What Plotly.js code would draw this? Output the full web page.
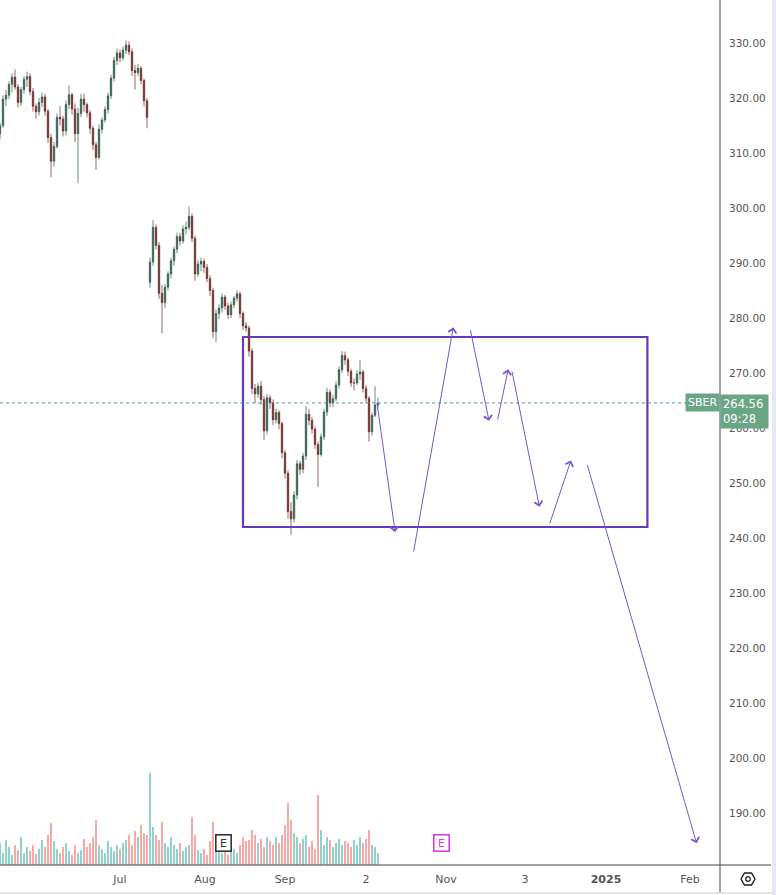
<!DOCTYPE html>
<html><head><meta charset="utf-8">
<script src="https://cdn.plot.ly/plotly-3.0.1.min.js"></script>
<style>html,body{margin:0;padding:0;background:#fff;}#chart{width:776px;height:895px;}</style>
</head><body><div id="chart"></div>
<script>
// bar index (one bar per period), prices in RUB
const openP = [313.5,315,319.8,320.5,322.5,323.8,322,319.2,321.5,323.4,
323.9,321.2,318.5,317.5,319.2,320.2,317.6,312.8,308.5,311.2,
316.5,316.2,314,318.8,320.6,318,313.5,317.2,319.8,318.8,
317.3,314.5,311.5,309.2,314.3,316,317.9,320.4,323.6,326.8,
328.2,327.3,328.7,329.6,328.4,325,324.6,325.4,323.2,319.5,
286.5,290.2,296.5,293.2,284.5,282.8,285.6,288,290.4,292.5,
294.8,294,296.2,296.5,298.5,294.5,288,289.8,290.3,289.2,
287.2,285,277.5,280.8,281.8,283.8,282.2,280.6,282.4,283.6,
284.4,280.8,278.6,278.2,274,267.2,266.2,267.6,265.2,259.5,
265.5,264.6,261.5,262.8,260.8,255.5,251.8,244.8,243.5,247.8,
253.5,252.5,254.9,262.5,261.4,259.8,257,255.2,258.4,262.9,
266.5,264.6,265.3,267.8,270.6,273.2,272.4,270.3,268.2,268.2,
269.8,270.2,267.2,265.4,259.3,262.3,264.2];
const highP = [315.5,320.5,321.5,323,324.5,325.2,322.5,322,324,324.8,
324.5,321.8,319,320,321,320.8,318,313.5,312,317.2,
318.5,316.8,319.5,322.3,321,319,318.2,320.8,320.8,319.2,
317.8,315,312,315.2,316.5,318.5,321,324.2,327.5,329,
328.8,329.3,330.5,330.3,329,326,326.2,325.8,323.5,320,
291,297.8,297,293.8,286,286.2,288.5,291,293,295.5,
295.5,296.8,297.5,300.3,299,295,290.5,291,290.8,289.8,
287.8,285.5,281.5,282.5,284.5,284.2,282.8,283,284,285,
284.8,281.2,279.3,278.6,274.5,268,268.2,268.5,265.8,266.2,
266,265.2,263.5,263.2,261.2,256,252.3,246.5,248.5,254.2,
254,255.5,264,263.5,262,260.3,257.5,259,263.5,267.3,
267,266,268.5,271.2,274,273.9,272.8,270.8,269,270.5,
272.4,270.6,267.8,265.8,262.8,267.6,265.5];
const lowP = [312.5,314.5,318.5,319.8,321,321.5,318.3,318.5,320.8,322,
320.5,317.5,316.2,316.8,318.3,316.8,311.8,305.6,307.5,310.8,
315,313,313.2,318,317,312,304.5,316.5,317.5,316.5,
313.5,310.5,306.9,308.8,313.5,315.5,317.2,319.8,323,326,
326.5,326.8,328,327.8,324,321.5,324,322.5,318.5,314.5,
285.5,289.5,292.5,283.5,277.2,281.8,285,287.2,289.5,291.8,
293.2,293.5,295.2,296,293.8,286.8,287.5,288.5,288.2,286.5,
284,276.4,275.6,279.8,281,281.5,279.8,280,281.8,283,
280,277.8,277.5,273,266.2,264.5,265.5,264.2,257.8,258.8,
263.5,260.5,260.8,259.8,254.5,250.8,243.5,240.6,242.8,247,
251.5,251.8,254.2,260.5,259,256.2,249.3,254.8,257.8,262.2,
263.8,263.8,264.8,267.2,270,271.5,269.5,267.5,266.8,267.8,
268.8,266.5,264.5,257.5,258.6,262,263.6];
const closeP = [315,319.8,320.5,322.5,323.8,322,319.2,321.5,323.4,323.9,
321.2,318.5,317.5,319.2,320.2,317.6,312.8,308.5,311.2,316.5,
316.2,314,318.8,320.6,318,313.5,317.2,319.8,318.8,317.3,
314.5,311.5,309.2,314.3,316,317.9,320.4,323.6,326.8,328.2,
327.3,328.7,329.6,328.4,325,324.6,325.4,323.2,319.5,316.5,
290.2,296.5,293.2,284.5,282.8,285.6,288,290.4,292.5,294.8,
294,296.2,296.5,298.5,294.5,288,289.8,290.3,289.2,287.2,
285,277.5,280.8,281.8,283.8,282.2,280.6,282.4,283.6,284.4,
280.8,278.6,278.2,274,267.2,266.2,267.6,265.2,259.5,265.5,
264.6,261.5,262.8,260.8,255.5,251.8,244.8,243.5,247.8,253.5,
252.5,254.9,262.5,261.4,259.8,257,255.2,258.4,262.9,266.5,
264.6,265.3,267.8,270.6,273.2,272.4,270.3,268.2,268.2,269.8,
270.2,267.2,265.4,259.3,262.3,264.2,264.56];
const volume = [22,12,25,18,10,20,15,28,12,18,
14,20,11,16,25,18,30,42,24,16,
12,18,22,14,10,20,12,15,26,18,
22,28,45,20,16,12,24,18,14,20,
16,22,25,30,20,34,28,40,32,30,
92,38,30,25,43,22,18,28,20,16,
22,14,18,20,48,30,15,12,16,10,
24,43,20,14,12,18,10,22,16,12,
20,28,24,25,35,30,22,26,18,28,
24,20,28,22,30,40,62,45,32,28,
22,26,30,18,24,16,70,35,20,28,
25,18,22,26,20,24,22,18,25,20,
28,22,26,35,20,18,12];
const tickPos = [40, 68.3, 95, 122, 148.7, 175, 202, 230];
const tickText = ['Jul','Aug','Sep','2','Nov','3','<b>2025</b>','Feb'];
const priceTicks = [190,200,210,220,230,240,250,260,270,280,290,300,310,320,330];
// range box (bar index, price)
const boxX = [81, 215.8];
const boxY = [242.0, 276.55];
// forecast arrows: tail -> head (bar index, price)
const arrowFromX = [125.6, 137.8, 156.7, 165.8, 170.6, 183.1, 195.6];
const arrowFromY = [264.8, 237.3, 278.1, 261.3, 270.5, 242.4, 253.6];
const arrowToX   = [131.7, 151.1, 163.0, 169.4, 179.8, 190.3, 232.2];
const arrowToY   = [241.1, 278.3, 261.3, 270.7, 245.7, 254.1, 184.5];
const earningsX = [74.5, 147.3];
const earningsColor = ['#333333', '#d63ee6'];
const symbol = 'SBER';
const lastTime = '09:28';

const idx = closeP.map((_, i) => i);
const volColors = closeP.map((c, i) => c >= openP[i] ? 'rgba(38,166,154,0.5)' : 'rgba(239,83,80,0.5)');
const last = closeP[closeP.length - 1];
const font = 'DejaVu Sans, Verdana, sans-serif';

const traces = [
  {type:'bar', x: idx, y: volume, yaxis:'y2', marker:{color: volColors, line:{width:0}}, width:0.7, hoverinfo:'skip'},
  {type:'candlestick', x: idx, open: openP, high: highP, low: lowP, close: closeP,
   increasing:{line:{color:'#2f5a48', width:0.7}, fillcolor:'#2f5a48'},
   decreasing:{line:{color:'#6a2626', width:0.7}, fillcolor:'#6a2626'},
   whiskerwidth:0, hoverinfo:'skip'}
];

const H = 865, W = 720;
const shapes = [
  {type:'rect', xref:'x', yref:'y', x0: boxX[0], x1: boxX[1], y0: boxY[0], y1: boxY[1], line:{color:'#6739b6', width:2.2}},
  {type:'line', xref:'paper', yref:'y', x0:0, x1:1, y0:last, y1:last, line:{color:'#4f9a86', width:1, dash:'dot'}},
  {type:'line', xref:'paper', yref:'paper', x0:1, x1:1, y0:-28/H, y1:1, line:{color:'#444', width:1}},
  {type:'line', xref:'paper', yref:'paper', x0:0, x1:1+51/W, y0:0, y1:0, line:{color:'#444', width:1}},
  {type:'line', xref:'paper', yref:'paper', x0:0, x1:1+56/W, y0:-28/H, y1:-28/H, line:{color:'#dcdcdc', width:1.5}},
  {type:'rect', xref:'paper', yref:'paper', x0:1+52/W, x1:1+56/W, y0:-30/H, y1:1, fillcolor:'#e9e7f4', line:{width:0}},
  {type:'path', xref:'paper', yref:'paper', xsizemode:'pixel', ysizemode:'pixel', xanchor:1+28/W, yanchor:-14/H,
   path:'M7,0 L3.5,6 L-3.5,6 L-7,0 L-3.5,-6 L3.5,-6 Z', line:{color:'#222', width:1.4}},
  {type:'circle', xref:'paper', yref:'paper', xsizemode:'pixel', ysizemode:'pixel', xanchor:1+28/W, yanchor:-14/H,
   x0:-2.3, x1:2.3, y0:-2.3, y1:2.3, line:{color:'#222', width:1.3}}
];

const annotations = [];
for (let k = 0; k < arrowFromX.length; k++) {
  annotations.push({xref:'x', yref:'y', axref:'x', ayref:'y', x: arrowToX[k], y: arrowToY[k],
    ax: arrowFromX[k], ay: arrowFromY[k], text:'', showarrow:true, arrowhead:4, arrowsize:1.6,
    arrowwidth:1, arrowcolor:'#7a55c8', standoff:0, startstandoff:0});
}
earningsX.forEach((ex, k) => annotations.push({xref:'x', yref:'paper', x: ex, y: 13/H, text:'E',
  showarrow:false, font:{family:font, size:11, color: earningsColor[k]}, bgcolor:'#fff',
  bordercolor: earningsColor[k], borderwidth:1.6, borderpad:2, width:10, height:11}));
annotations.push({xref:'paper', yref:'y', x:1, y:last, xanchor:'right', yanchor:'middle', text: symbol,
  showarrow:false, font:{family:font, size:11, color:'#fff'}, bgcolor:'#6aa585', borderpad:2});
annotations.push({xref:'paper', yref:'y', x:1, y:last, xanchor:'left', yanchor:'top', yshift:9,
  text: last.toFixed(2) + '<br>' + lastTime, align:'left', width:43,
  showarrow:false, font:{family:font, size:11.5, color:'#fff'}, bgcolor:'#6aa585', borderpad:2});

const layout = {
  width:776, height:895, margin:{l:0, r:56, t:0, b:30},
  paper_bgcolor:'#fff', plot_bgcolor:'#fff', showlegend:false, bargap:0,
  xaxis:{type:'linear', range:[0,240], rangeslider:{visible:false}, showgrid:false, zeroline:false,
    showline:false, tickvals: tickPos, ticktext: tickText, ticks:'', ticklabelstandoff:6,
    tickfont:{family:font, size:11, color:'#555'}, fixedrange:true},
  yaxis:{side:'right', range:[180.55, 337.82], showgrid:false, zeroline:false, showline:false,
    tickvals: priceTicks, tickformat:'.2f', ticks:'', ticklabelstandoff:8,
    tickfont:{family:font, size:10.5, color:'#555'}},
  yaxis2:{overlaying:'y', range:[0, 865], visible:false},
  shapes, annotations
};
Plotly.newPlot('chart', traces, layout, {displayModeBar:false, staticPlot:true});
</script></body></html>
